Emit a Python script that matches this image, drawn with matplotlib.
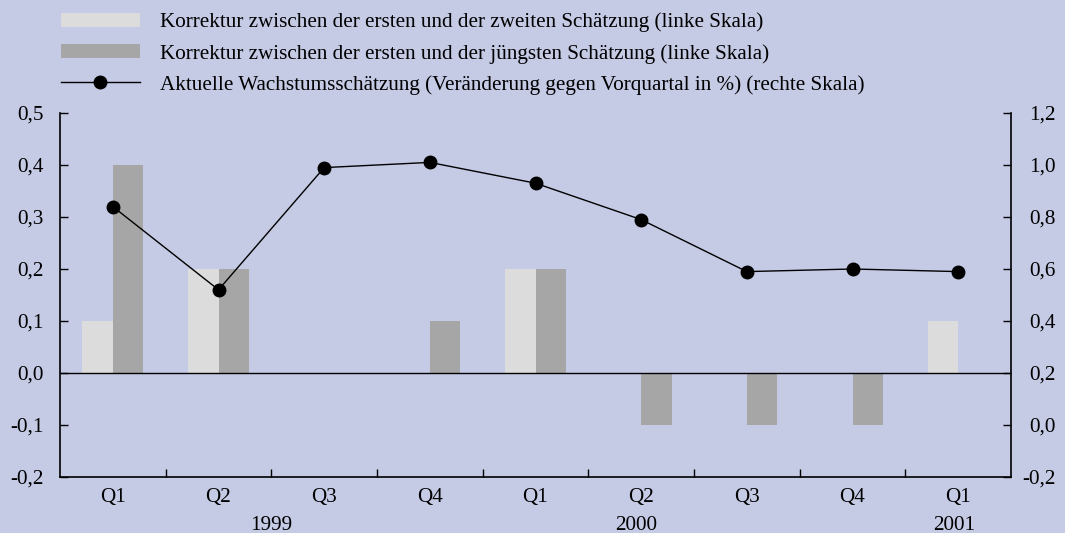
import matplotlib
matplotlib.use("Agg")
import matplotlib.pyplot as plt
import numpy as np
import matplotlib.transforms as mtrans
from matplotlib.lines import Line2D
from matplotlib.patches import Patch
from matplotlib.ticker import FixedLocator

quarters = ["Q1", "Q2", "Q3", "Q4", "Q1", "Q2", "Q3", "Q4", "Q1"]
years = ["1999", "2000", "2001"]
year_pos = [1.5, 4.95, 7.96]
korr_zweite = [0.1, 0.2, 0.0, 0.0, 0.2, 0.0, 0.0, 0.0, 0.1]
korr_juengste = [0.4, 0.2, 0.0, 0.1, 0.2, -0.1, -0.1, -0.1, 0.0]
wachstum = [0.84, 0.52, 0.99, 1.01, 0.93, 0.79, 0.59, 0.60, 0.59]
labels = [
    "Korrektur zwischen der ersten und der zweiten Schätzung (linke Skala)",
    "Korrektur zwischen der ersten und der jüngsten Schätzung (linke Skala)",
    "Aktuelle Wachstumsschätzung (Veränderung gegen Vorquartal in %) (rechte Skala)",
]

bg = "#C5CAE5"
plt.rcParams["font.family"] = ["Liberation Serif", "DejaVu Serif"]
fs = 15.2

fig = plt.figure(figsize=(10.65, 5.33), dpi=100, facecolor=bg)
ax = fig.add_axes([60/1065, 1-477/533, (1011-60)/1065, (477-113)/533])
ax.set_facecolor(bg)
x = np.arange(len(quarters))
w = 0.29
ax.bar(x - w/2, korr_zweite, w, color="#DCDCDC", zorder=2)
ax.bar(x + w/2, korr_juengste, w, color="#A6A6A6", zorder=2)
ax.axhline(0, color="black", lw=1, zorder=3)
ax.set_xlim(-0.5, len(quarters) - 0.5)
ax.set_ylim(-0.2, 0.5)
lt = np.arange(-0.2, 0.51, 0.1)
ax.set_yticks(lt)
ax.set_yticklabels([f"{v:.1f}".replace(".", ",").replace("-0,0", "0,0") for v in lt], fontsize=fs)
ax.set_xticks(x)
ax.set_xticklabels(quarters, fontsize=fs)
ax.tick_params(axis="x", which="major", length=0, pad=8)
ax.xaxis.set_minor_locator(FixedLocator(np.arange(0.5, len(quarters) - 0.5, 1)))
ax.tick_params(axis="x", which="minor", direction="in", length=6, width=1)
ax.tick_params(axis="y", direction="in", length=6, width=1, pad=12)
for s in ["top", "right"]:
    ax.spines[s].set_visible(False)
for s in ["left", "bottom"]:
    ax.spines[s].set_linewidth(1.2)

ax2 = ax.twinx()
ax2.plot(x, wachstum, color="black", lw=1, marker="o", markersize=9, zorder=4)
ax2.set_ylim(-0.2, 1.2)
rt = np.arange(-0.2, 1.21, 0.2)
ax2.set_yticks(rt)
ax2.set_yticklabels([f"{v:.1f}".replace(".", ",").replace("-0,0", "0,0") for v in rt], fontsize=fs)
ax2.tick_params(axis="y", direction="in", length=6, width=1, pad=32.4)
for lab in ax2.get_yticklabels():
    lab.set_horizontalalignment("right")
for s in ["top", "left", "bottom"]:
    ax2.spines[s].set_visible(False)
ax2.spines["right"].set_linewidth(1.2)

off = ax.transData + mtrans.ScaledTranslation(0, -39/100, fig.dpi_scale_trans)
for yl, yp in zip(years, year_pos):
    ax.text(yp, -0.2, yl, transform=off, ha="center", va="top", fontsize=fs)

handles = [
    Patch(facecolor="#DCDCDC", edgecolor="none"),
    Patch(facecolor="#A6A6A6", edgecolor="none"),
    Line2D([0], [0], color="black", lw=1, marker="o", markersize=9),
]
fig.legend(handles, labels, loc="upper left", bbox_to_anchor=(48/1065, 1.0), frameon=False,
           fontsize=fs, handlelength=3.75, handleheight=0.65, handletextpad=0.95,
           labelspacing=0.54, borderaxespad=0.2)

fig.savefig("out.png", dpi=100, facecolor=bg)
